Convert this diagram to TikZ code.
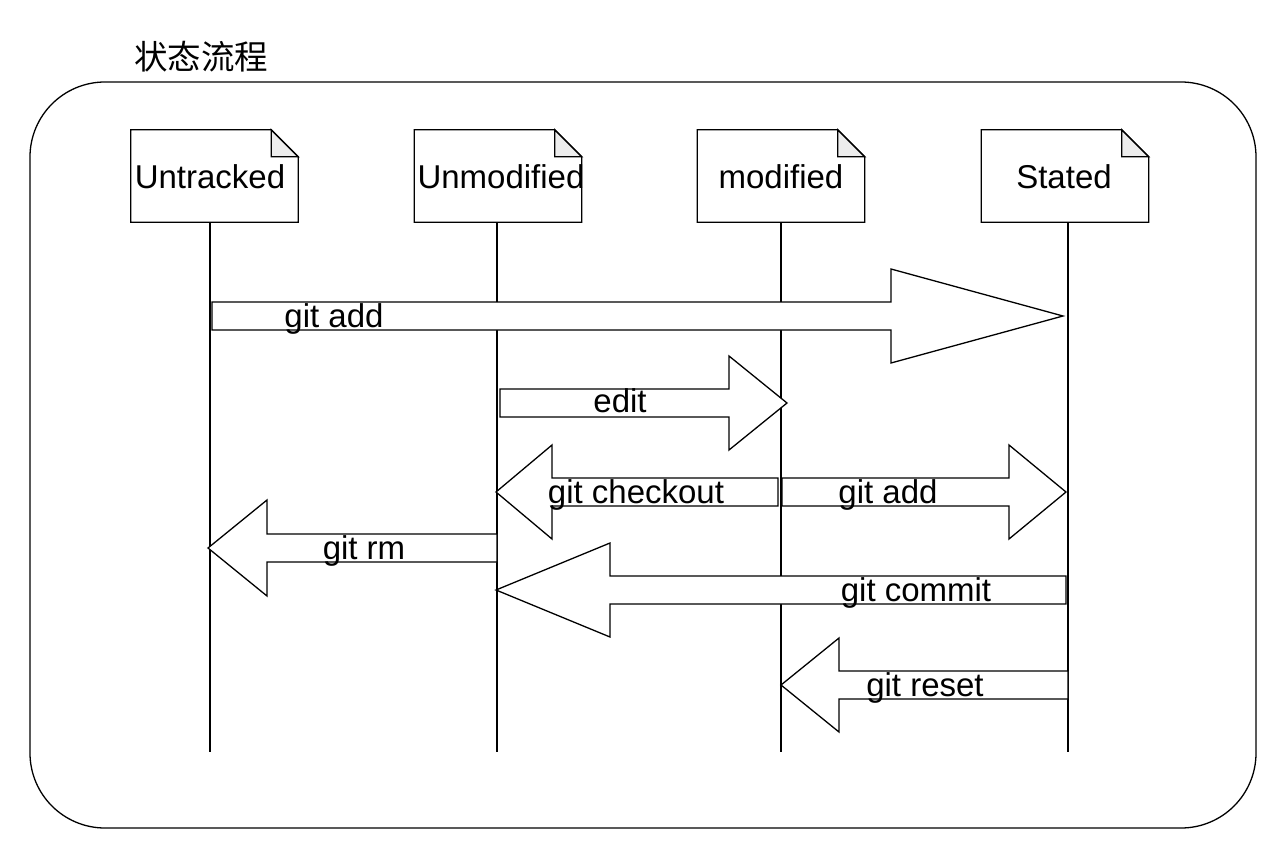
\documentclass[tikz,border=0pt]{standalone}
\usepackage{fontspec}
\setmainfont{Liberation Sans}
\newfontfamily\cjk{Noto Sans CJK SC}
\newcommand{\flexarrow}[5]{% tail x, tip x, y, head base x, head half
  \draw[blk] (#1,#3-14) -- (#4,#3-14) -- (#4,#3-#5) -- (#2,#3) -- (#4,#3+#5) -- (#4,#3+14) -- (#1,#3+14) -- cycle;
}
\begin{document}
\begin{tikzpicture}[x=1pt,y=-1pt,
  every node/.style={font=\fontsize{33}{39}\selectfont, inner sep=0pt},
  docnode/.style={minimum width=167pt, minimum height=92pt},
  docline/.style={line width=1.3pt, fill=white},
  fold/.style={line width=1.3pt, fill=black!7},
  life/.style={line width=2.8pt},
  blk/.style={line width=1.3pt, fill=white},
  frame/.style={line width=1.3pt, rounded corners=75pt}]
\useasboundingbox (0,0) rectangle (1283,862);
\draw[frame] (30,82) rectangle (1256,828);
\node[anchor=west, font=\cjk\fontsize{33.5}{39}\selectfont] (title) at (134,57) {状态流程};
% lifelines
\coordinate (t1) at (210,222); \coordinate (b1) at (210,752);
\coordinate (t2) at (497,222); \coordinate (b2) at (497,752);
\coordinate (t3) at (781,222); \coordinate (b3) at (781,752);
\coordinate (t4) at (1068,222); \coordinate (b4) at (1068,752);
\foreach \i in {1,2,3,4} {\draw[life] (t\i) -- (b\i);}
% doc nodes
\foreach \nm/\cx/\tx/\txt in {untracked/214.5/210/Untracked, unmodified/498/501/Unmodified, modified/781/781/modified, stated/1065/1064/Stated} {
  \node[docnode] (\nm) at (\cx,176) {};
  \draw[docline] (\nm.north west) -- ([xshift=-27pt]\nm.north east) -- ([yshift=-27pt]\nm.north east) -- (\nm.south east) -- (\nm.south west) -- cycle;
  \draw[fold] ([xshift=-27pt]\nm.north east) -- ([xshift=-27pt,yshift=-27pt]\nm.north east) -- ([yshift=-27pt]\nm.north east) -- cycle;
  \node (\nm-label) at (\tx,177) {\txt};
}
% block arrows
\flexarrow{212}{1063}{316}{891}{47}
\node (l1) at (334,319) {git add};
\flexarrow{500}{787}{403}{729}{47}
\node (l2) at (620,401) {edit};
\flexarrow{778}{496}{492}{552}{47}
\node (l3) at (636,495) {git checkout};
\flexarrow{782}{1066}{492}{1009}{47}
\node (l4) at (888,495) {git add};
\flexarrow{497}{208}{548}{267}{48}
\node (l5) at (364,551) {git rm};
\flexarrow{1066}{496}{590}{610}{47}
\node (l6) at (916,593) {git commit};
\flexarrow{1068}{781}{685}{839}{47}
\node (l7) at (925,688) {git reset};
\end{tikzpicture}
\end{document}
